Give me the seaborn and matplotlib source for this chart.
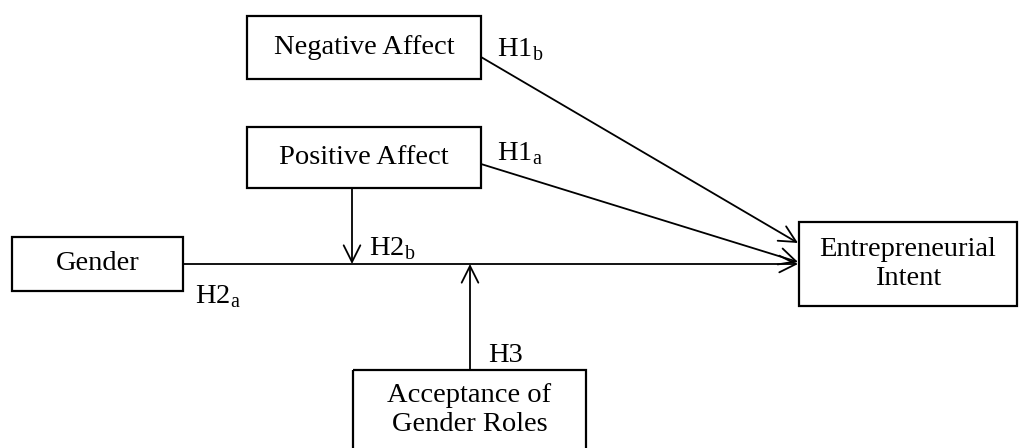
import seaborn as sns
import matplotlib.pyplot as plt
from matplotlib.patches import Rectangle

# node texts and path labels
nodes = ['Negative Affect', 'Positive Affect', 'Gender',
         'Acceptance of\nGender Roles', 'Entrepreneurial\nIntent']
path_labels = [r'H1$_{\mathrm{b}}$', r'H1$_{\mathrm{a}}$', r'H2$_{\mathrm{a}}$',
               r'H2$_{\mathrm{b}}$', 'H3']

# layout in pixels (x0, y0, x1, y1)
boxes = {
    'Negative Affect': (247, 16, 481, 79),
    'Positive Affect': (247, 127, 481, 188),
    'Gender': (12, 237, 183, 291),
    'Acceptance of\nGender Roles': (353, 370, 586, 470),
    'Entrepreneurial\nIntent': (799, 222, 1017, 306),
}
label_pos = [(497, 50), (497, 154), (195, 297), (369, 249), (488, 355)]

sns.set_theme(style='white')
plt.rcParams['font.family'] = ['Liberation Serif', 'DejaVu Serif']
plt.rcParams['mathtext.fontset'] = 'custom'
plt.rcParams['mathtext.rm'] = 'Liberation Serif'

fig, ax = plt.subplots(figsize=(10.19, 4.48), dpi=100)
fig.subplots_adjust(0, 0, 1, 1)
ax.set_xlim(0, 1019)
ax.set_ylim(448, 0)
ax.axis('off')

for name in nodes:
    x0, y0, x1, y1 = boxes[name]
    ax.add_patch(Rectangle((x0, y0), x1 - x0, y1 - y0, fill=False,
                           lw=1.6, ec='black'))
    cy = (y0 + y1) / 2 if y1 < 448 else 410
    ax.text((x0 + x1) / 2, cy, name, ha='center', va='center',
            fontsize=20.5, linespacing=1.25, color='black')

arrow = dict(arrowstyle='->', lw=1.3, color='black', mutation_scale=30,
             shrinkA=0, shrinkB=0)
# H1b, H1a to outcome
ax.annotate('', xy=(798, 243), xytext=(481, 57), arrowprops=arrow)
ax.annotate('', xy=(798, 262), xytext=(481, 164), arrowprops=arrow)
# gender -> outcome
ax.annotate('', xy=(798, 264), xytext=(183, 264), arrowprops=arrow)
# moderators
ax.annotate('', xy=(352, 264), xytext=(352, 188), arrowprops=arrow)
ax.annotate('', xy=(470, 264), xytext=(470, 370), arrowprops=arrow)

for lab, (x, y) in zip(path_labels, label_pos):
    ax.text(x, y, lab, ha='left', va='center', fontsize=20.5, color='black')

fig.savefig('out.png', dpi=100)
